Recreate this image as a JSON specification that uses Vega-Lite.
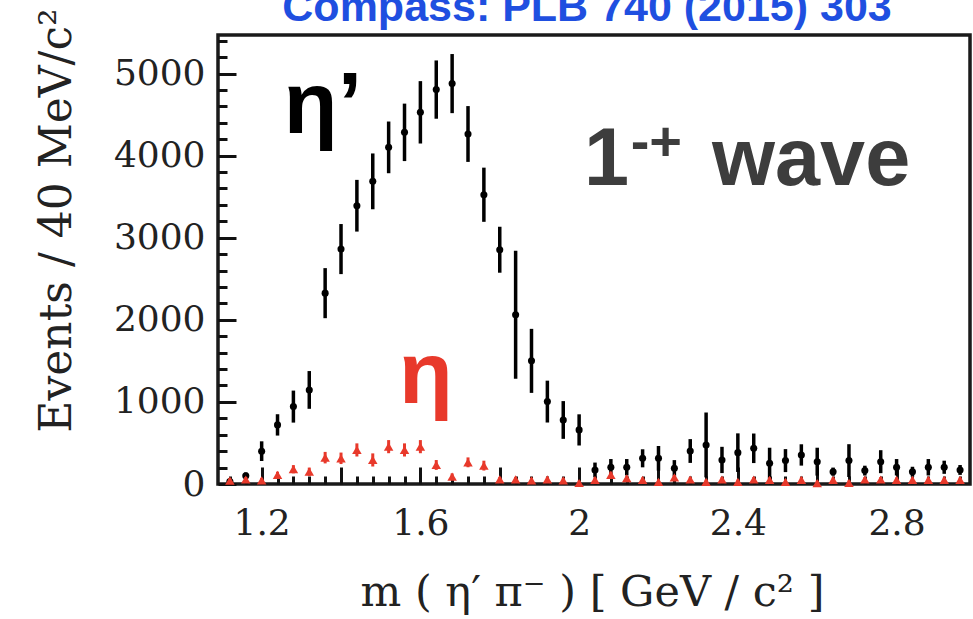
{
  "$schema": "https://vega.github.io/schema/vega-lite/v6.json",
  "width": 752,
  "height": 449,
  "autosize": "none",
  "padding": {"left": 218, "top": 35, "right": 3, "bottom": 135},
  "background": "white",
  "config": {"view": {"stroke": "#1a1a1a", "strokeWidth": 3.5}},
  "datasets": {
    "etap": [
      {"m": 1.12, "n": 30, "e": 30},
      {"m": 1.16, "n": 100, "e": 40},
      {"m": 1.20, "n": 400, "e": 120},
      {"m": 1.24, "n": 720, "e": 130},
      {"m": 1.28, "n": 943, "e": 195},
      {"m": 1.32, "n": 1146, "e": 230},
      {"m": 1.36, "n": 2325, "e": 305},
      {"m": 1.40, "n": 2862, "e": 305},
      {"m": 1.44, "n": 3390, "e": 315},
      {"m": 1.48, "n": 3687, "e": 340},
      {"m": 1.52, "n": 4101, "e": 315},
      {"m": 1.56, "n": 4284, "e": 350},
      {"m": 1.60, "n": 4528, "e": 380},
      {"m": 1.64, "n": 4805, "e": 355},
      {"m": 1.68, "n": 4878, "e": 360},
      {"m": 1.72, "n": 4264, "e": 340},
      {"m": 1.76, "n": 3524, "e": 330},
      {"m": 1.80, "n": 2854, "e": 280},
      {"m": 1.84, "n": 2061, "e": 780},
      {"m": 1.88, "n": 1500, "e": 390},
      {"m": 1.92, "n": 1004, "e": 255},
      {"m": 1.96, "n": 780, "e": 230},
      {"m": 2.00, "n": 659, "e": 190},
      {"m": 2.04, "n": 171, "e": 90},
      {"m": 2.08, "n": 204, "e": 100},
      {"m": 2.12, "n": 204, "e": 100},
      {"m": 2.16, "n": 313, "e": 110},
      {"m": 2.20, "n": 313, "e": 150},
      {"m": 2.24, "n": 191, "e": 100},
      {"m": 2.28, "n": 402, "e": 145},
      {"m": 2.32, "n": 476, "e": 395},
      {"m": 2.36, "n": 293, "e": 160},
      {"m": 2.40, "n": 382, "e": 235},
      {"m": 2.44, "n": 435, "e": 180},
      {"m": 2.48, "n": 252, "e": 190},
      {"m": 2.52, "n": 285, "e": 140},
      {"m": 2.56, "n": 354, "e": 130},
      {"m": 2.60, "n": 272, "e": 170},
      {"m": 2.64, "n": 150, "e": 50},
      {"m": 2.68, "n": 285, "e": 200},
      {"m": 2.72, "n": 163, "e": 60},
      {"m": 2.76, "n": 272, "e": 140},
      {"m": 2.80, "n": 204, "e": 100},
      {"m": 2.84, "n": 150, "e": 60},
      {"m": 2.88, "n": 204, "e": 100},
      {"m": 2.92, "n": 204, "e": 80},
      {"m": 2.96, "n": 171, "e": 60}
    ],
    "eta": [
      {"m": 1.12, "n": 40, "e": 30},
      {"m": 1.16, "n": 55, "e": 30},
      {"m": 1.20, "n": 45, "e": 30},
      {"m": 1.24, "n": 110, "e": 40},
      {"m": 1.28, "n": 180, "e": 50},
      {"m": 1.32, "n": 150, "e": 50},
      {"m": 1.36, "n": 321, "e": 70},
      {"m": 1.40, "n": 313, "e": 70},
      {"m": 1.44, "n": 415, "e": 80},
      {"m": 1.48, "n": 293, "e": 80},
      {"m": 1.52, "n": 455, "e": 80},
      {"m": 1.56, "n": 415, "e": 80},
      {"m": 1.60, "n": 455, "e": 80},
      {"m": 1.64, "n": 232, "e": 60},
      {"m": 1.68, "n": 89, "e": 40},
      {"m": 1.72, "n": 264, "e": 60},
      {"m": 1.76, "n": 224, "e": 60},
      {"m": 1.80, "n": 57, "e": 30},
      {"m": 1.84, "n": 57, "e": 30},
      {"m": 1.88, "n": 45, "e": 30},
      {"m": 1.92, "n": 57, "e": 30},
      {"m": 1.96, "n": 45, "e": 30},
      {"m": 2.00, "n": 12, "e": 30},
      {"m": 2.04, "n": 49, "e": 30},
      {"m": 2.08, "n": 110, "e": 40},
      {"m": 2.12, "n": 70, "e": 30},
      {"m": 2.16, "n": 50, "e": 30},
      {"m": 2.20, "n": 25, "e": 30},
      {"m": 2.24, "n": 80, "e": 30},
      {"m": 2.28, "n": 55, "e": 30},
      {"m": 2.32, "n": 25, "e": 30},
      {"m": 2.36, "n": 55, "e": 30},
      {"m": 2.40, "n": 25, "e": 30},
      {"m": 2.44, "n": 55, "e": 30},
      {"m": 2.48, "n": 50, "e": 30},
      {"m": 2.52, "n": 25, "e": 30},
      {"m": 2.56, "n": 50, "e": 30},
      {"m": 2.60, "n": 10, "e": 30},
      {"m": 2.64, "n": 50, "e": 30},
      {"m": 2.68, "n": 15, "e": 30},
      {"m": 2.72, "n": 55, "e": 30},
      {"m": 2.76, "n": 55, "e": 30},
      {"m": 2.80, "n": 50, "e": 30},
      {"m": 2.84, "n": 50, "e": 30},
      {"m": 2.88, "n": 50, "e": 30},
      {"m": 2.92, "n": 50, "e": 30},
      {"m": 2.96, "n": 50, "e": 30}
    ]
  },
  "layer": [
    {
      "data": {"name": "etap"},
      "mark": {"type": "point", "filled": true, "shape": "circle", "size": 50, "color": "#000000", "opacity": 1},
      "encoding": {
        "x": {
          "field": "m", "type": "quantitative",
          "title": "m ( η′ π⁻ )   [ GeV / c² ]",
          "scale": {"domain": [1.09, 2.985], "nice": false, "zero": false},
          "axis": {
            "values": [1.12,1.16,1.2,1.24,1.28,1.32,1.36,1.4,1.44,1.48,1.52,1.56,1.6,1.64,1.68,1.72,1.76,1.8,1.84,1.88,1.92,1.96,2,2.04,2.08,2.12,2.16,2.2,2.24,2.28,2.32,2.36,2.4,2.44,2.48,2.52,2.56,2.6,2.64,2.68,2.72,2.76,2.8,2.84,2.88,2.92,2.96],
            "tickCount": 500,
            "labelExpr": "indexof([1.2, 1.6, 2, 2.4, 2.8], datum.value) >= 0 ? (datum.value == 2 ? '2' : format(datum.value, '.1f')) : ''",
            "tickSize": {"condition": {"test": "abs(datum.value * 5 - round(datum.value * 5)) < 0.001", "value": -17}, "value": -8},
            "tickColor": "#111111", "tickWidth": 3,
            "domain": false, "grid": false,
            "labelOverlap": false, "labelFlush": false,
            "labelFont": "DejaVu Serif", "labelFontSize": 36, "labelColor": "#222222", "labelPadding": 39,
            "titleFont": "DejaVu Serif", "titleFontSize": 43, "titleFontWeight": "normal", "titleColor": "#222222",
            "titleX": 374, "titleY": 121, "titleAlign": "center", "titleBaseline": "alphabetic"
          }
        },
        "y": {
          "field": "n", "type": "quantitative",
          "title": "Events  /  40 MeV/c²",
          "scale": {"domain": [0, 5470], "nice": false},
          "axis": {
            "values": [0,200,400,600,800,1000,1200,1400,1600,1800,2000,2200,2400,2600,2800,3000,3200,3400,3600,3800,4000,4200,4400,4600,4800,5000,5200,5400],
            "tickCount": 500,
            "labelExpr": "datum.value % 1000 == 0 ? format(datum.value, 'd') : ''",
            "tickSize": {"condition": {"test": "datum.value % 1000 == 0", "value": -18}, "value": -9},
            "tickColor": "#111111", "tickWidth": 3,
            "domain": false, "grid": false,
            "labelOverlap": false, "labelFlush": false,
            "labelFont": "DejaVu Serif", "labelFontSize": 36, "labelColor": "#222222", "labelPadding": 31,
            "titleFont": "DejaVu Serif", "titleFontSize": 44, "titleFontWeight": "normal", "titleColor": "#222222",
            "titleAngle": -90, "titleX": -148, "titleY": 185, "titleAlign": "center", "titleBaseline": "alphabetic"
          }
        }
      }
    },
    {
      "data": {"name": "etap"},
      "mark": {"type": "errorbar", "ticks": false, "thickness": 3.5, "color": "#000000"},
      "encoding": {
        "x": {"field": "m", "type": "quantitative", "title": "m ( η′ π⁻ )   [ GeV / c² ]"},
        "y": {"field": "n", "type": "quantitative", "title": "Events  /  40 MeV/c²"},
        "yError": {"field": "e"}
      }
    },
    {
      "data": {"name": "eta"},
      "mark": {"type": "errorbar", "ticks": false, "thickness": 3, "color": "#e8392b"},
      "encoding": {
        "x": {"field": "m", "type": "quantitative", "title": "m ( η′ π⁻ )   [ GeV / c² ]"},
        "y": {"field": "n", "type": "quantitative", "title": "Events  /  40 MeV/c²"},
        "yError": {"field": "e"}
      }
    },
    {
      "data": {"name": "eta"},
      "mark": {"type": "point", "filled": true, "shape": "triangle-up", "size": 90, "color": "#e8392b", "opacity": 1},
      "encoding": {
        "x": {"field": "m", "type": "quantitative", "title": "m ( η′ π⁻ )   [ GeV / c² ]"},
        "y": {"field": "n", "type": "quantitative", "title": "Events  /  40 MeV/c²"}
      }
    },
    {
      "data": {"values": [{}]},
      "mark": {"type": "text", "text": "Compass: PLB 740 (2015) 303", "font": "Liberation Sans", "fontWeight": "bold", "fontSize": 43, "color": "#1f4fe0", "align": "center", "baseline": "alphabetic"},
      "encoding": {"x": {"datum": 2.02, "type": "quantitative"}, "y": {"datum": 5640, "type": "quantitative"}}
    },
    {
      "data": {"values": [{}]},
      "mark": {"type": "text", "text": "η’", "font": "Liberation Sans", "fontWeight": "bold", "fontSize": 88, "color": "#000000", "align": "left", "baseline": "alphabetic"},
      "encoding": {"x": {"datum": 1.256, "type": "quantitative"}, "y": {"datum": 4276, "type": "quantitative"}}
    },
    {
      "data": {"values": [{}]},
      "mark": {"type": "text", "text": "η", "font": "Liberation Sans", "fontWeight": "bold", "fontSize": 88, "color": "#e8392b", "align": "left", "baseline": "alphabetic"},
      "encoding": {"x": {"datum": 1.546, "type": "quantitative"}, "y": {"datum": 987, "type": "quantitative"}}
    },
    {
      "data": {"values": [{}]},
      "mark": {"type": "text", "text": "1", "font": "Liberation Sans", "fontWeight": "bold", "fontSize": 81, "color": "#3d3d3d", "align": "left", "baseline": "alphabetic"},
      "encoding": {"x": {"datum": 2.012, "type": "quantitative"}, "y": {"datum": 3643, "type": "quantitative"}}
    },
    {
      "data": {"values": [{}]},
      "mark": {"type": "text", "text": "-+", "font": "Liberation Sans", "fontWeight": "bold", "fontSize": 56, "color": "#3d3d3d", "align": "left", "baseline": "alphabetic"},
      "encoding": {"x": {"datum": 2.13, "type": "quantitative"}, "y": {"datum": 3947, "type": "quantitative"}}
    },
    {
      "data": {"values": [{}]},
      "mark": {"type": "text", "text": "wave", "font": "Liberation Sans", "fontWeight": "bold", "fontSize": 81, "color": "#3d3d3d", "align": "left", "baseline": "alphabetic"},
      "encoding": {"x": {"datum": 2.335, "type": "quantitative"}, "y": {"datum": 3643, "type": "quantitative"}}
    }
  ]
}
